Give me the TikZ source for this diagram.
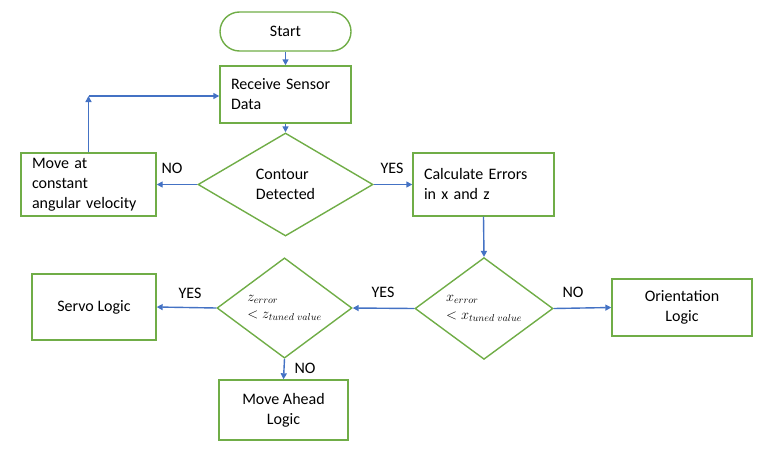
\documentclass[tikz,border=0pt]{standalone}
\usepackage{fontspec}
\setmainfont{Carlito}
\usetikzlibrary{shapes.geometric,arrows.meta}
\definecolor{ogreen}{RGB}{112,173,71}
\definecolor{oblue}{RGB}{68,114,196}
\begin{document}
\begin{tikzpicture}[x=1pt,y=-1pt,
  box/.style={draw=ogreen, line width=1.4pt, font=\fontsize{16}{20}\selectfont, inner sep=0pt},
  dia/.style={diamond, draw=ogreen, line width=1.4pt, inner sep=0pt, font=\fontsize{16}{20}\selectfont},
  mth/.style={font=\fontsize{14}{17.5}\selectfont},
  arr/.style={draw=oblue, line width=1.4pt, -{Triangle[length=6pt,width=6pt]}},
  lbl/.style={font=\fontsize{16}{18}\selectfont, inner sep=0pt}]
\useasboundingbox (0,0) rectangle (770,455);
\node[box, rounded corners=19.5pt, minimum width=131pt, minimum height=39pt] (start) at (285.5,31.5) {Start};
\node[box, minimum width=131pt, minimum height=57pt, text width=109pt, align=left] (recv) at (285.5,94.5) {Receive Sensor\\Data};
\node[dia, minimum width=175pt, minimum height=103pt, align=left] (contour) at (285.5,184.5) {Contour\\Detected};
\node[box, minimum width=135pt, minimum height=63pt, text width=113pt, align=left] (move) at (88.5,184.5) {Move at\\constant\\angular velocity};
\node[box, minimum width=141pt, minimum height=63pt, text width=119pt, align=left] (calc) at (483.5,184.5) {Calculate Errors\\in x and z};
\node[dia, mth, minimum width=138pt, minimum height=101pt, align=left] (xdia) at (484,308.5) {$x_{error}$\\$<x_{tuned\ value}$};
\node[box, minimum width=140pt, minimum height=57pt, align=center] (orient) at (682,307.5) {Orientation\\Logic};
\node[dia, mth, minimum width=135pt, minimum height=100pt, align=left] (zdia) at (284.5,308) {$z_{error}$\\$<z_{tuned\ value}$};
\node[box, minimum width=124pt, minimum height=66pt] (servo) at (94,307) {Servo Logic};
\node[box, minimum width=129pt, minimum height=60pt, align=center] (ahead) at (283.5,410) {Move Ahead\\Logic};
\coordinate (corner) at (move.north |- 0,96);
\draw[arr] (start.south) -- (recv.north);
\draw[arr] (recv.south) -- (contour.north);
\draw[arr] (contour.west) -- (move.east);
\draw[arr] (contour.east) -- (calc.west);
\draw[arr] (move.north) -- (corner);
\draw[arr] (corner) -- (corner -| recv.west);
\draw[arr] (calc.south) -- (xdia.north);
\draw[arr] (xdia.east) -- (orient.west);
\draw[arr] (xdia.west) -- (zdia.east);
\draw[arr] (zdia.west) -- (servo.east);
\draw[arr] (zdia.south) -- (ahead.north);
\node[lbl] (l1) at (172,168) {NO};
\node[lbl] (l2) at (392,168) {YES};
\node[lbl] (l3) at (573,292) {NO};
\node[lbl] (l4) at (383,292) {YES};
\node[lbl] (l5) at (190,293) {YES};
\node[lbl] (l6) at (305,368) {NO};
\end{tikzpicture}
\end{document}
